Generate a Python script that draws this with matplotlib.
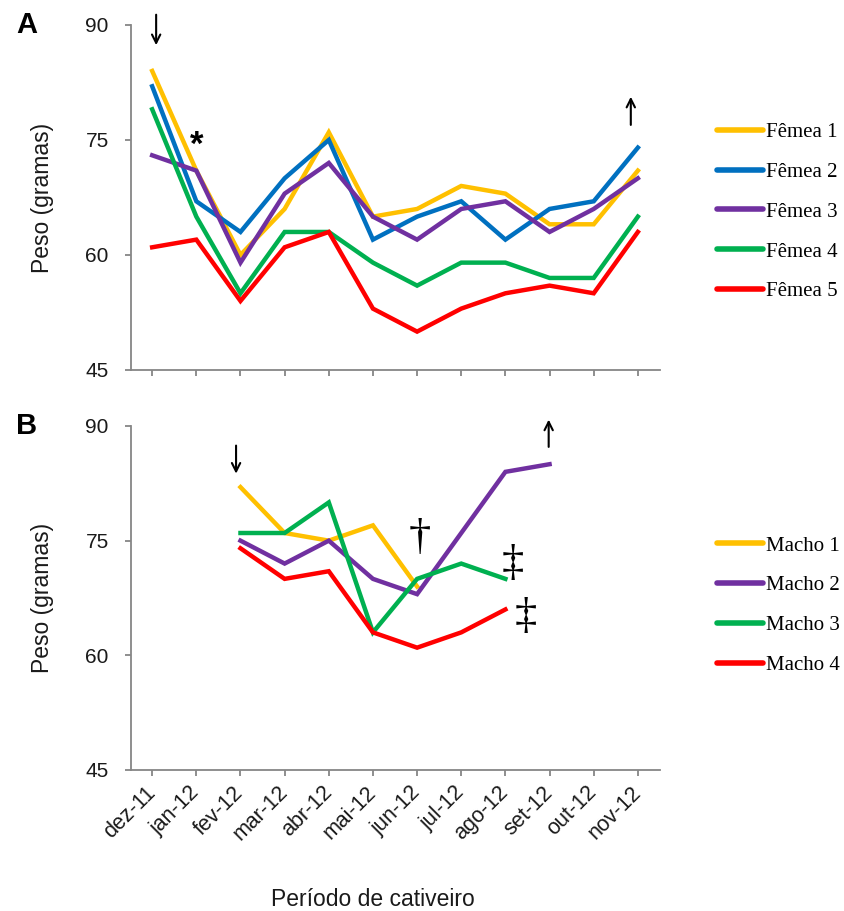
import numpy as np
import matplotlib
matplotlib.use('Agg')
import matplotlib.pyplot as plt

# meses do periodo de cativeiro
meses = ['dez-11', 'jan-12', 'fev-12', 'mar-12', 'abr-12', 'mai-12',
         'jun-12', 'jul-12', 'ago-12', 'set-12', 'out-12', 'nov-12']

# pesos das femeas (gramas)
femea1 = [84, 71, 60, 66, 76, 65, 66, 69, 68, 64, 64, 71]
femea2 = [82, 67, 63, 70, 75, 62, 65, 67, 62, 66, 67, 74]
femea3 = [73, 71, 59, 68, 72, 65, 62, 66, 67, 63, 66, 70]
femea4 = [79, 65, 55, 63, 63, 59, 56, 59, 59, 57, 57, 65]
femea5 = [61, 62, 54, 61, 63, 53, 50, 53, 55, 56, 55, 63]

# pesos dos machos (gramas), None = sem registro
macho1 = [None, None, 82, 76, 75, 77, 69, None, None, None, None, None]
macho2 = [None, None, 75, 72, 75, 70, 68, 76, 84, 85, None, None]
macho3 = [None, None, 76, 76, 80, 63, 70, 72, 70, None, None, None]
macho4 = [None, None, 74, 70, 71, 63, 61, 63, 66, None, None, None]

amarelo = '#FFC000'
azul = '#0070C0'
roxo = '#7030A0'
verde = '#00B050'
vermelho = '#FF0000'
cinza = '#868686'

sans = ['Liberation Sans', 'DejaVu Sans']
serif = ['Liberation Serif', 'DejaVu Serif']

plt.rcParams['font.family'] = sans

fig = plt.figure(figsize=(8.45, 9.11), dpi=100)
axA = fig.add_axes([0.155, 0.5939, 0.626, 0.3787])
axB = fig.add_axes([0.155, 0.1548, 0.626, 0.3776])

x = np.arange(len(meses))


def to_arr(v):
    return np.array([np.nan if a is None else a for a in v], dtype=float)


def estilo(ax, letra):
    ax.set_xlim(-0.48, 11.5)
    ax.set_ylim(45, 90)
    ax.set_yticks([45, 60, 75, 90])
    ax.set_xticks(x)
    for s in ['top', 'right']:
        ax.spines[s].set_visible(False)
    for s in ['left', 'bottom']:
        ax.spines[s].set_color(cinza)
        ax.spines[s].set_linewidth(1.3)
    ax.tick_params(axis='both', colors=cinza, length=4, width=1.3, labelcolor='#1a1a1a')
    ax.tick_params(axis='y', labelsize=15, pad=12)
    ax.set_ylabel('Peso (gramas)', fontsize=16.5, color='#1a1a1a')
    ax.yaxis.set_label_coords(-0.145, 0.5)
    ax.text(-0.197, 1.0, letra, transform=ax.transAxes, fontsize=21,
            fontweight='bold', ha='center', va='center')


series_f = [femea1, femea2, femea3, femea4, femea5]
cores_f = [amarelo, azul, roxo, verde, vermelho]
for i, (s, c) in enumerate(zip(series_f, cores_f)):
    axA.plot(x, s, color=c, lw=3.2, label='Fêmea %d' % (i + 1), solid_joinstyle='miter')

series_m = [macho1, macho2, macho3, macho4]
cores_m = [amarelo, roxo, verde, vermelho]
for i, (s, c) in enumerate(zip(series_m, cores_m)):
    axB.plot(x, to_arr(s), color=c, lw=3.2, label='Macho %d' % (i + 1), solid_joinstyle='miter')

estilo(axA, 'A')
estilo(axB, 'B')
axA.set_xticklabels([])
axB.set_xticklabels(meses, rotation=45, ha='right', va='center', rotation_mode='anchor', fontsize=15.5)
axB.tick_params(axis='x', pad=10)
axB.set_xlabel('Período de cativeiro', fontsize=16.5, color='#1a1a1a', va='top')
axB.xaxis.set_label_coords(0.457, -0.343)

for ax, c in [(axA, 0.458), (axB, 0.478)]:
    leg = ax.legend(loc='center left', bbox_to_anchor=(1.108, c), frameon=False,
                    prop={'family': serif, 'size': 15}, handlelength=2.2,
                    handletextpad=0.15, labelspacing=0.97, borderaxespad=0, borderpad=0)
    for h in leg.get_lines():
        h.set_linewidth(4)
        h.set_solid_capstyle('round')

# marcadores: entrada e saida
seta = dict(arrowstyle='->,head_length=0.6,head_width=0.3', lw=1.5, color='black')
axA.annotate('', xy=(0.09, 87.0), xytext=(0.09, 91.7), arrowprops=seta, annotation_clip=False)
axA.annotate('', xy=(10.84, 81.0), xytext=(10.84, 76.6), arrowprops=seta, annotation_clip=False)
axB.annotate('', xy=(1.9, 83.4), xytext=(1.9, 87.8), arrowprops=seta, annotation_clip=False)
axB.annotate('', xy=(8.98, 91.2), xytext=(8.98, 86.9), arrowprops=seta, annotation_clip=False)

axA.text(1.0, 74.3, '*', fontsize=25, fontweight='bold', ha='center', va='center')
axB.text(6.06, 75.4, '†', fontsize=32, family=serif, ha='center', va='center')
axB.text(8.17, 72.0, '‡', fontsize=32, family=serif, ha='center', va='center')
axB.text(8.46, 65.0, '‡', fontsize=32, family=serif, ha='center', va='center')

fig.savefig('out.png', dpi=100)
